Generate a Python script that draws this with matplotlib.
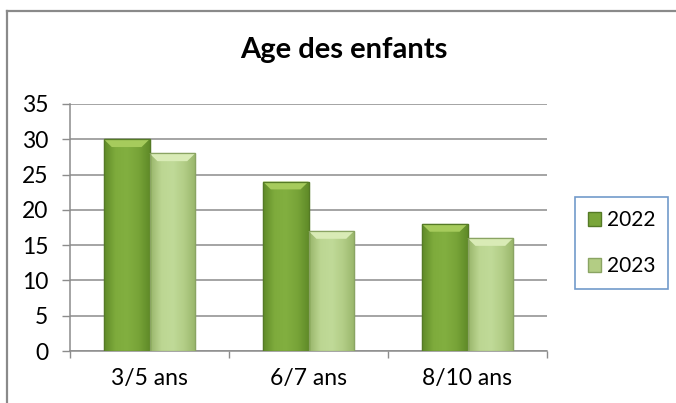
import matplotlib
matplotlib.use("Agg")
import matplotlib.pyplot as plt
import numpy as np
from matplotlib.patches import Rectangle, Polygon
from matplotlib.lines import Line2D
from matplotlib.colors import LinearSegmentedColormap

categories = ["3/5 ans", "6/7 ans", "8/10 ans"]
series_names = ["2022", "2023"]
values_2022 = [30, 24, 18]
values_2023 = [28, 17, 16]
title = "Age des enfants"

plt.rcParams['font.family'] = ['Lato', 'DejaVu Sans']

fig = plt.figure(figsize=(6.76, 4.03), dpi=100)
ax = fig.add_axes([70/676, 52/403, 477/676, 247/403])

x = np.arange(len(categories))
w = 0.287
cmaps = [
    LinearSegmentedColormap.from_list("g1", ["#5f8a28", "#7eab3c", "#82af40", "#78a438", "#5f8a28"]),
    LinearSegmentedColormap.from_list("g2", ["#98b56a", "#bcd692", "#c0da98", "#b2cd86", "#98b56a"]),
]
bevels = ["#a6cb5c", "#d9ebb6"]
faces = ["#7aa63a", "#b3cd84"]
edges = ["#557a26", "#8aa463"]
allvals = [values_2022, values_2023]
bev_h = 1.1   # bevel height in data units
bev_w = 0.05  # bevel inset in category units
for i, vals in enumerate(allvals):
    bars = ax.bar(x + (i - 0.5) * w, vals, w, color=faces[i], edgecolor=edges[i],
                  linewidth=0.9, zorder=3, label=series_names[i])
    grad = np.linspace(0, 1, 256).reshape(1, -1)
    for b in bars:
        bx, by = b.get_x(), b.get_y()
        bw, bh = b.get_width(), b.get_height()
        im = ax.imshow(grad, extent=[bx, bx + bw, by, by + bh], aspect='auto',
                       cmap=cmaps[i], zorder=3.5, interpolation='bicubic')
        im.set_clip_path(b)
        top = by + bh
        trap = Polygon([(bx, top), (bx + bw, top), (bx + bw - bev_w, top - bev_h),
                        (bx + bev_w, top - bev_h)], closed=True,
                       facecolor=bevels[i], edgecolor='none', zorder=4)
        ax.add_patch(trap)
        outline = Rectangle((bx, by), bw, bh, fill=False, edgecolor=edges[i],
                            linewidth=0.9, zorder=4.5)
        ax.add_patch(outline)

ax.set_xlim(-0.5, 2.5)
ax.set_ylim(0, 35)
ax.set_yticks(np.arange(0, 36, 5))
ax.set_xticks(x)
ax.set_xticklabels(categories)
ax.set_xticks([-0.5, 0.5, 1.5, 2.5], minor=True)
ax.tick_params(axis='x', which='major', length=0, labelsize=16.5, pad=12)
ax.tick_params(axis='x', which='minor', length=5, color='#8c8c8c', direction='out', width=1)
ax.tick_params(axis='y', length=5.5, color='#8c8c8c', labelsize=16.5, pad=10, width=1)
ax.yaxis.grid(True, color='#8c8c8c', linewidth=1.1)
ax.set_axisbelow(True)
for s in ['top', 'right']:
    ax.spines[s].set_visible(False)
ax.spines['left'].set_color('#8c8c8c')
ax.spines['bottom'].set_color('#8c8c8c')
ax.spines['left'].set_linewidth(1.1)
ax.spines['bottom'].set_linewidth(1.1)

fig.text(344/676, 1 - 58/403, title, ha='center', va='baseline', fontsize=21, fontweight='bold')

handles = [Rectangle((0, 0), 1, 1, facecolor=faces[i], edgecolor=edges[i]) for i in range(2)]
leg = fig.legend(handles, series_names, loc='center', bbox_to_anchor=(621.5/676, 1 - 243/403),
                 frameon=True, fancybox=False, fontsize=15, handlelength=0.65, handleheight=0.65,
                 handletextpad=0.25, labelspacing=1.25, borderpad=0.6, borderaxespad=0)
leg.get_frame().set_edgecolor('#4f81bd')
leg.get_frame().set_linewidth(1.2)

# chart-area border (top and left edges; right and bottom lie outside the picture)
fig.add_artist(Line2D([7/676, 1.0], [1 - 11/403, 1 - 11/403], transform=fig.transFigure,
                      color='#8a8a8a', linewidth=1.6))
fig.add_artist(Line2D([7/676, 7/676], [0.0, 1 - 11/403], transform=fig.transFigure,
                      color='#8a8a8a', linewidth=1.6))

fig.savefig("out.png", dpi=100)
